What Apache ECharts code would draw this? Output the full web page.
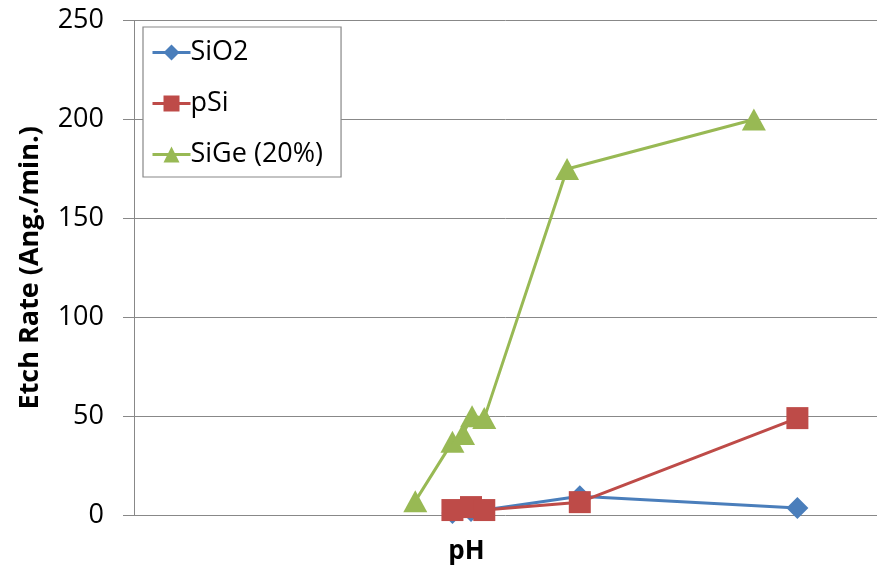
<!DOCTYPE html>
<html>
<head>
<meta charset="utf-8">
<script src="https://cdn.jsdelivr.net/npm/echarts@6/dist/echarts.min.js"></script>
<style>html,body{margin:0;padding:0;background:#fff;}#c{width:877px;height:570px;}</style>
</head>
<body>
<div id="c"></div>
<script>
// Data (x = pH position, y = etch rate Ang./min.)
const seriesNames = ['SiO2', 'pSi', 'SiGe (20%)'];
const sio2X = [6.0, 6.35, 6.6, 8.4, 12.5];
const sio2Y = [1, 2, 2.5, 9.5, 3.5];
const psiX = [6.0, 6.35, 6.6, 8.4, 12.5];
const psiY = [2.5, 4, 2.5, 6.5, 49];
const sigeX = [5.3, 6.0, 6.2, 6.37, 6.6, 8.16, 11.68];
const sigeY = [7, 37, 41, 50, 49, 175, 200];
const yTicks = [0, 50, 100, 150, 200, 250];

function pairs(xs, ys) { return xs.map((x, i) => [x, ys[i]]); }

const chart = echarts.init(document.getElementById('c'));
const font = '"Open Sans", sans-serif';
chart.setOption({
  animation: false,
  backgroundColor: '#fff',
  grid: { left: 134, right: 0, top: 20.7, bottom: 52.3, containLabel: false },
  legend: {
    orient: 'vertical', left: 143, top: 27,
    padding: [12, 18, 9, 8],
    itemWidth: 38, itemHeight: 20, itemGap: 24,
    borderColor: '#888', borderWidth: 1.2, backgroundColor: '#fff',
    lineStyle: { width: 3 },
    textStyle: { fontFamily: font, fontSize: 27, color: '#000', padding: [0, 0, 0, -5] },
    data: seriesNames
  },
  xAxis: {
    type: 'value', min: 0, max: 14,
    name: 'pH', nameLocation: 'middle', nameGap: 24,
    nameTextStyle: { fontFamily: font, fontSize: 26, fontWeight: 'bold', color: '#000', padding: [0, 78, 0, 0] },
    axisLine: { show: false }, axisTick: { show: false }, axisLabel: { show: false },
    splitLine: { show: false }
  },
  yAxis: {
    type: 'value', min: yTicks[0], max: yTicks[yTicks.length - 1], interval: 50,
    name: 'Etch Rate (Ang./min.)', nameLocation: 'middle', nameGap: 90,
    nameTextStyle: { fontFamily: font, fontSize: 27, fontWeight: 'bold', color: '#000' },
    axisLine: { show: true, lineStyle: { color: '#888', width: 1 } },
    axisTick: { show: true, length: 11, lineStyle: { color: '#888' } },
    axisLabel: { fontFamily: font, fontSize: 27, color: '#000', margin: 30 },
    splitLine: { show: true, lineStyle: { color: '#888', width: 1 } }
  },
  series: [
    { name: seriesNames[0], type: 'line', data: pairs(sio2X, sio2Y), symbol: 'diamond', symbolSize: 22,
      itemStyle: { color: '#4A7EBB' }, lineStyle: { color: '#4A7EBB', width: 3 }, z: 2 },
    { name: seriesNames[1], type: 'line', data: pairs(psiX, psiY), symbol: 'rect', symbolSize: 22,
      itemStyle: { color: '#BE4B48' }, lineStyle: { color: '#BE4B48', width: 3 }, z: 3 },
    { name: seriesNames[2], type: 'line', data: pairs(sigeX, sigeY), symbol: 'triangle', symbolSize: [24, 22],
      itemStyle: { color: '#98B954' }, lineStyle: { color: '#98B954', width: 3 }, z: 4 }
  ]
});
</script>
</body>
</html>
